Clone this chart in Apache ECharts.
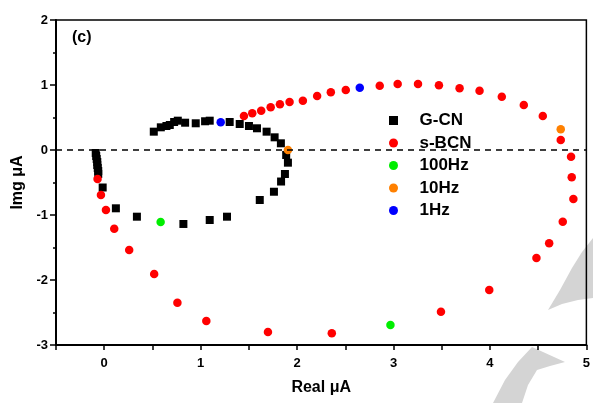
<!DOCTYPE html>
<html><head><meta charset="utf-8">
<script src="https://cdn.jsdelivr.net/npm/echarts@6/dist/echarts.min.js"></script>
<style>html,body{margin:0;padding:0;background:#fff}#c{width:593px;height:403px}</style>
</head><body><div id="c"></div>
<script>
// G-CN (black squares)
const gcnReal = [-0.088,-0.083,-0.078,-0.072,-0.072,-0.067,-0.062,-0.062,-0.016,0.121,0.339,0.821,1.094,1.273,1.613,1.760,1.834,1.874,1.905,1.887,1.832,1.767,1.684,1.584,1.501,1.405,1.301,1.094,1.046,0.949,0.839,0.763,0.725,0.680,0.645,0.587,0.514];
const gcnImg  = [-0.046,-0.092,-0.138,-0.185,-0.231,-0.277,-0.323,-0.369,-0.577,-0.897,-1.026,-1.138,-1.077,-1.026,-0.769,-0.642,-0.485,-0.369,-0.195,-0.077,0.103,0.195,0.282,0.334,0.369,0.400,0.431,0.451,0.442,0.411,0.420,0.451,0.431,0.385,0.369,0.349,0.282];
// s-BCN (red circles)
const sbcnReal = [-0.069,-0.034,0.018,0.104,0.259,0.518,0.759,1.059,1.698,2.360,3.492,3.993,4.482,4.614,4.755,4.865,4.848,4.841,4.734,4.548,4.351,4.123,3.892,3.685,3.471,3.254,3.043,2.857,2.505,2.350,2.208,2.060,1.922,1.822,1.726,1.628,1.535,1.449];
const sbcnImg  = [-0.446,-0.692,-0.923,-1.211,-1.538,-1.908,-2.349,-2.631,-2.800,-2.820,-2.488,-2.154,-1.662,-1.435,-1.103,-0.754,-0.420,-0.103,0.154,0.523,0.692,0.820,0.912,0.949,0.995,1.015,1.015,0.989,0.923,0.888,0.831,0.758,0.738,0.703,0.657,0.605,0.565,0.523];
// frequency markers [G-CN, s-BCN]
const hz100Real = [0.585, 2.968];
const hz100Img  = [-1.108, -2.692];
const hz10Real  = [1.905, 4.734];
const hz10Img   = [0.000, 0.318];
const hz1Real   = [1.208, 2.650];
const hz1Img    = [0.426, 0.958];
// axes
const xTicks = [0, 1, 2, 3, 4, 5];
const yTicks = [-3, -2, -1, 0, 1, 2];

const zip = (a, b) => a.map((v, i) => [v, b[i]]);
const FONT = "'Liberation Sans', Arial, sans-serif";
const SQUARE = 'path://M0,0L10,0L10,10L0,10Z';

const chart = echarts.init(document.getElementById('c'), null, {renderer: 'canvas'});
chart.setOption({
  animation: false,
  backgroundColor: '#fff',
  grid: {left: 56, right: 5, top: 20, bottom: 58, show: true, borderColor: '#000', borderWidth: 1.5, backgroundColor: 'transparent'},
  xAxis: {
    type: 'value', min: -0.5, max: 5, interval: 0.5,
    name: 'Real μA', nameLocation: 'middle', nameGap: 35,
    nameTextStyle: {fontFamily: FONT, fontWeight: 'bold', fontSize: 16, color: '#000'},
    axisLine: {show: true, onZero: false, lineStyle: {color: '#000', width: 2}},
    axisTick: {show: true, inside: false, length: 5, lineStyle: {color: '#000', width: 1.5}},
    axisLabel: {margin: 12, fontFamily: FONT, fontWeight: 'bold', fontSize: 13, color: '#000',
      formatter: v => xTicks.includes(Math.round(v * 1000) / 1000) ? String(Math.round(v)) : ''},
    splitLine: {show: false}
  },
  yAxis: {
    type: 'value', min: -3, max: 2, interval: 1,
    name: 'Img μA', nameLocation: 'middle', nameGap: 27,
    nameTextStyle: {fontFamily: FONT, fontWeight: 'bold', fontSize: 16, color: '#000'},
    axisLine: {show: true, onZero: false, lineStyle: {color: '#000', width: 2}},
    axisTick: {show: true, inside: false, length: 6, lineStyle: {color: '#000', width: 1.5}},
    minorTick: {show: true, splitNumber: 2, length: 3, lineStyle: {color: '#000', width: 1.5}},
    axisLabel: {margin: 8, fontFamily: FONT, fontWeight: 'bold', fontSize: 13, color: '#000',
      formatter: v => yTicks.includes(v) ? String(v) : ''},
    splitLine: {show: false}
  },
  legend: {
    orient: 'vertical', left: 384, top: 107, itemWidth: 42, itemHeight: 9, itemGap: 5.5,
    textStyle: {fontFamily: FONT, fontWeight: 'bold', fontSize: 17, color: '#000', lineHeight: 17},
    data: [{name: 'G-CN', icon: SQUARE, itemStyle: {color: '#000'}}, {name: 's-BCN', icon: 'circle'}, {name: '100Hz', icon: 'circle'}, {name: '10Hz', icon: 'circle'}, {name: '1Hz', icon: 'circle'}]
  },
  graphic: [
    {type: 'text', left: 72, top: 30, style: {text: '(c)', font: 'bold 16px ' + FONT, fill: '#000'}},
    {type: 'polygon', z: -10, silent: true, shape: {points: [[548,310],[560,290],[572,268],[582,252],[593,238],[593,298],[578,300],[562,304]]}, style: {fill: '#d4d4d4'}},
    {type: 'polygon', z: -10, silent: true, shape: {points: [[532,347],[565,362],[550,366],[537,370],[528,385],[522,403],[493,403],[505,380],[518,362]]}, style: {fill: '#d4d4d4'}}
  ],
  series: [
    {name: 'G-CN', type: 'scatter', symbol: 'rect', symbolSize: 8, itemStyle: {color: '#000', opacity: 1}, data: zip(gcnReal, gcnImg), z: 3,
      markLine: {silent: true, symbol: ['none', 'none'], label: {show: false}, lineStyle: {color: '#000', width: 1.5, type: [6, 5]}, data: [{yAxis: 0}]}},
    {name: 's-BCN', type: 'scatter', symbol: 'circle', symbolSize: 8.5, itemStyle: {color: '#ff0000', opacity: 1}, data: zip(sbcnReal, sbcnImg), z: 3},
    {name: '100Hz', type: 'scatter', symbol: 'circle', symbolSize: 8.5, itemStyle: {color: '#00ee00', opacity: 1}, data: zip(hz100Real, hz100Img), z: 4},
    {name: '10Hz', type: 'scatter', symbol: 'circle', symbolSize: 8.5, itemStyle: {color: '#ff8000', opacity: 1}, data: zip(hz10Real, hz10Img), z: 4},
    {name: '1Hz', type: 'scatter', symbol: 'circle', symbolSize: 8.5, itemStyle: {color: '#0000ff', opacity: 1}, data: zip(hz1Real, hz1Img), z: 4}
  ]
});
</script></body></html>
